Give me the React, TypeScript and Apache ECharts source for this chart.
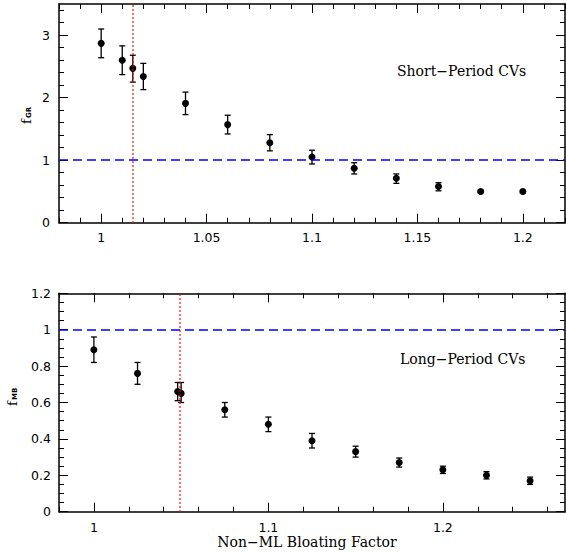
import React, { useEffect, useRef } from 'react';
import * as echarts from 'echarts';

// Short-period CVs (top panel)
const shortX = [1.0, 1.01, 1.015, 1.02, 1.04, 1.06, 1.08, 1.1, 1.12, 1.14, 1.16, 1.18, 1.2];
const shortY = [2.87, 2.6, 2.47, 2.34, 1.91, 1.57, 1.28, 1.05, 0.87, 0.71, 0.58, 0.5, 0.5];
const shortLo = [2.64, 2.37, 2.25, 2.13, 1.73, 1.42, 1.15, 0.94, 0.78, 0.63, 0.51, 0.48, 0.48];
const shortHi = [3.1, 2.83, 2.68, 2.55, 2.09, 1.72, 1.41, 1.16, 0.96, 0.78, 0.64, 0.52, 0.52];
const shortRef = 1.015;

// Long-period CVs (bottom panel)
const longX = [1.0, 1.025, 1.048, 1.05, 1.075, 1.1, 1.125, 1.15, 1.175, 1.2, 1.225, 1.25];
const longY = [0.89, 0.76, 0.66, 0.65, 0.56, 0.48, 0.39, 0.33, 0.27, 0.23, 0.2, 0.17];
const longLo = [0.82, 0.7, 0.61, 0.6, 0.52, 0.44, 0.35, 0.3, 0.245, 0.21, 0.18, 0.15];
const longHi = [0.96, 0.82, 0.71, 0.71, 0.6, 0.52, 0.43, 0.36, 0.295, 0.25, 0.22, 0.19];
const longRef = 1.049;

const unityLine = 1;

// Tick labels
const topXTicks = [1, 1.05, 1.1, 1.15, 1.2];
const topYTicks = [0, 1, 2, 3];
const botXTicks = [1, 1.1, 1.2];
const botYTicks = [0, 0.2, 0.4, 0.6, 0.8, 1, 1.2];

function steps(start: number, end: number, step: number): number[] {
  const out: number[] = [];
  const n = Math.round((end - start) / step);
  for (let i = 0; i <= n; i++) out.push(+(start + i * step).toFixed(4));
  return out;
}

const topXMinor = steps(0.98, 1.22, 0.01);
const topYMinor = steps(0, 3.4, 0.2);
const botXMinor = steps(0.98, 1.26, 0.02);
const botYMinor = steps(0, 1.2, 0.05);

const TICK_FONT = { fontFamily: 'DejaVu Sans', fontSize: 12.5, color: '#000' };
const LINE = { color: '#000', width: 1.5 };
const TICKLINE = { color: '#000', width: 1 };

function axes(dim: 'x' | 'y', gridIndex: number, min: number, max: number, majors: number[], minors: number[], labelMargin: number) {
  const base: any = {
    type: 'value', gridIndex, min, max,
    splitLine: { show: false },
    axisLine: { show: false, onZero: false },
    axisLabel: { show: false },
    axisTick: { show: false },
  };
  const p1 = dim === 'x' ? 'bottom' : 'left';
  const p2 = dim === 'x' ? 'top' : 'right';
  const major = (pos: string, label: boolean) => ({
    ...base, position: pos,
    axisLine: { show: true, onZero: false, lineStyle: LINE },
    axisTick: { show: true, inside: true, length: 9, customValues: majors, lineStyle: TICKLINE },
    axisLabel: label
      ? { show: true, customValues: majors, margin: labelMargin, ...TICK_FONT }
      : { show: false },
  });
  const minor = (pos: string) => ({
    ...base, position: pos,
    axisTick: { show: true, inside: true, length: 5, customValues: minors, lineStyle: TICKLINE },
  });
  return [major(p1, true), minor(p1), major(p2, false), minor(p2)];
}

function errorSeries(axisIdx: number, xs: number[], lo: number[], hi: number[]) {
  return {
    type: 'custom', xAxisIndex: axisIdx, yAxisIndex: axisIdx, silent: true,
    data: xs.map((x, i) => [x, lo[i], hi[i]]),
    encode: { x: 0, y: [1, 2] },
    renderItem: (params: any, api: any) => {
      const x = api.value(0);
      const a = api.coord([x, api.value(1)]);
      const b = api.coord([x, api.value(2)]);
      const w = 3;
      const style = { stroke: '#000', lineWidth: 1.3 };
      return {
        type: 'group',
        children: [
          { type: 'line', shape: { x1: a[0], y1: a[1], x2: b[0], y2: b[1] }, style },
          { type: 'line', shape: { x1: a[0] - w, y1: a[1], x2: a[0] + w, y2: a[1] }, style },
          { type: 'line', shape: { x1: b[0] - w, y1: b[1], x2: b[0] + w, y2: b[1] }, style },
        ],
      };
    },
  };
}

function pointSeries(axisIdx: number, xs: number[], ys: number[], refX: number) {
  return {
    type: 'scatter', xAxisIndex: axisIdx, yAxisIndex: axisIdx, silent: true,
    symbol: 'circle', symbolSize: 7,
    itemStyle: { color: '#000', opacity: 1 },
    data: xs.map((x, i) => [x, ys[i]]),
    markLine: {
      silent: true, symbol: ['none', 'none'], label: { show: false }, precision: 6,
      data: [
        { yAxis: unityLine, lineStyle: { color: '#0000ff', type: [9, 5], width: 1.5 } },
        { xAxis: refX, lineStyle: { color: '#ff0000', type: [1.5, 2.5], width: 1.5 } },
      ],
    },
    z: 3,
  };
}

function yName(x: number, y: number, sub: string) {
  return {
    type: 'group', x, y, rotation: Math.PI / 2,
    children: [
      { type: 'text', x: 0, y: 0, style: { text: 'f', font: '13px "DejaVu Serif"', fill: '#000', textAlign: 'left', textVerticalAlign: 'middle' } },
      { type: 'text', x: 6, y: 3, style: { text: sub, font: 'bold 7px "DejaVu Sans"', fill: '#000', textAlign: 'left', textVerticalAlign: 'middle' } },
    ],
  };
}

export default function App() {
  const ref = useRef<HTMLDivElement>(null);
  useEffect(() => {
    const chart = echarts.init(ref.current!, null, { renderer: 'svg' });
    const option: any = {
      animation: false,
      backgroundColor: '#fff',
      grid: [
        { left: 59, right: 1, top: 4, height: 218.7 },
        { left: 59, right: 1, top: 293.3, height: 218.4 },
      ],
      xAxis: [
        ...axes('x', 0, 0.98, 1.22, topXTicks, topXMinor, 8),
        ...axes('x', 1, 0.98, 1.27, botXTicks, botXMinor, 9),
      ],
      yAxis: [
        ...axes('y', 0, 0, 3.5, topYTicks, topYMinor, 9),
        ...axes('y', 1, 0, 1.2, botYTicks, botYMinor, 8),
      ],
      series: [
        errorSeries(0, shortX, shortLo, shortHi),
        pointSeries(0, shortX, shortY, shortRef),
        errorSeries(4, longX, longLo, longHi),
        pointSeries(4, longX, longY, longRef),
      ],
      graphic: [
        { type: 'text', x: 397, y: 71, style: { text: 'Short\u2212Period CVs', font: '14px "DejaVu Serif"', fill: '#000', textAlign: 'left', textVerticalAlign: 'middle' } },
        { type: 'text', x: 400, y: 359, style: { text: 'Long\u2212Period CVs', font: '14px "DejaVu Serif"', fill: '#000', textAlign: 'left', textVerticalAlign: 'middle' } },
        { type: 'text', x: 307, y: 542, style: { text: 'Non\u2212ML Bloating Factor', font: '14px "DejaVu Serif"', fill: '#000', textAlign: 'center', textVerticalAlign: 'middle' } },
        yName(26, 124, 'GR'),
        yName(12, 406, 'MB'),
      ],
    };
    chart.setOption(option);
    return () => chart.dispose();
  }, []);
  return <div ref={ref} style={{ position: 'absolute', left: 0, top: 0, width: 566, height: 552 }} />;
}
